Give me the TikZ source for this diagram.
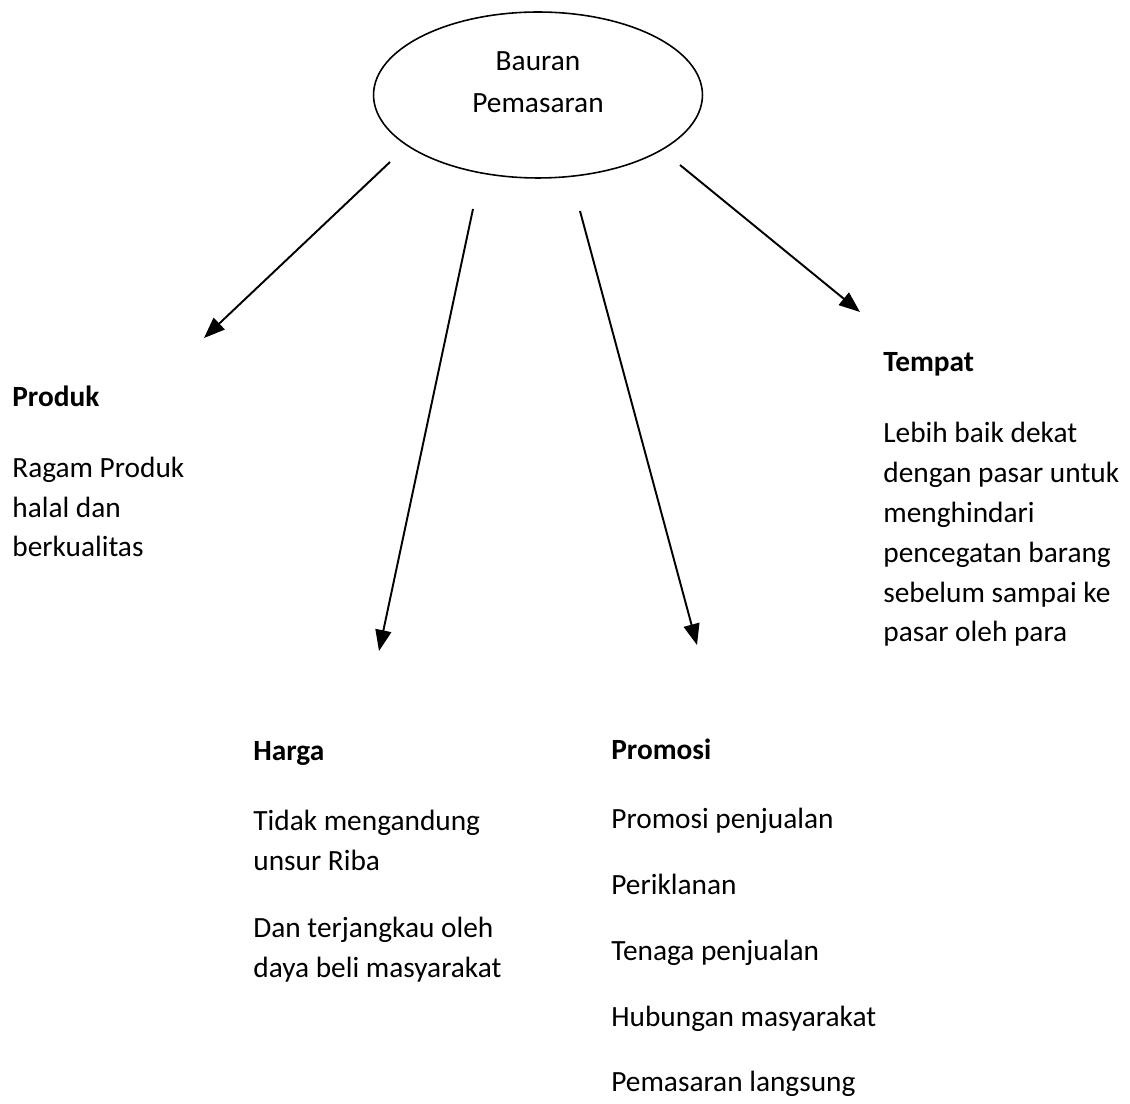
\documentclass[tikz,border=0pt]{standalone}
\usepackage{fontspec}
\setmainfont{Carlito}
\usepackage{tikz}
\usetikzlibrary{positioning,shapes.geometric,arrows.meta}
\newcommand{\textsz}{\fontsize{16.7}{22.7}\selectfont}
\tikzset{
    hub/.style={ellipse, draw, line width=0.9pt, minimum width=6.58cm, minimum height=3.32cm, inner sep=0pt},
    hubtext/.style={align=center, inner sep=0pt, anchor=base, font=\textsz},
    head/.style={font=\textsz\bfseries, inner sep=0pt, anchor=base west},
    body/.style={align=left, inner sep=0pt, font=\textsz},
    arrow/.style={-{Triangle[length=0.42cm, width=0.32cm]}, line width=1.1pt}
}

\begin{document}
\begin{tikzpicture}[x=0.02cm, y=-0.02cm]
\useasboundingbox (0,0) rectangle (1130,1104);

% Centre ellipse
\node[hub] (mix) at (538,95) {};
\node[hubtext] (mixtext) at (538,113) {Bauran\\[0.06cm]Pemasaran};

% Headings
\node[head] (produk) at (12,407) {Produk};
\node[head] (tempat) at (883,372) {Tempat};
\node[head] (harga) at (253,761) {Harga};
\node[head] (promosi) at (611,760) {Promosi};

% Descriptions (placed by their last line)
\node[body, below=3cm of produk.base west, anchor=base west] (produkText) {Ragam Produk\\halal dan\\berkualitas};
\node[body, below=5.4cm of tempat.base west, anchor=base west] (tempatText) {Lebih baik dekat\\dengan pasar untuk\\menghindari\\pencegatan barang\\sebelum sampai ke\\pasar oleh para};
\node[body, below=4.33cm of harga.base west, anchor=base west] (hargaText) {Tidak mengandung\\unsur Riba\\[0.55cm]Dan terjangkau oleh\\daya beli masyarakat};
\node[body, below=6.64cm of promosi.base west, anchor=base west] (promosiText) {Promosi penjualan\\[0.52cm]Periklanan\\[0.52cm]Tenaga penjualan\\[0.52cm]Hubungan masyarakat\\[0.52cm]Pemasaran langsung};

% Arrow ends
\coordinate (produkTail) at (390,162);
\coordinate (produkTip) at (204,338);
\coordinate (hargaTail) at (473,209);
\coordinate (hargaTip) at (379,651);
\coordinate (promosiTail) at (580,211);
\coordinate (promosiTip) at (697,645);
\coordinate (tempatTail) at (680,165);
\coordinate (tempatTip) at (860,312);

% Arrows
\draw[arrow] (produkTail) -- (produkTip);
\draw[arrow] (hargaTail) -- (hargaTip);
\draw[arrow] (promosiTail) -- (promosiTip);
\draw[arrow] (tempatTail) -- (tempatTip);

\end{tikzpicture}
\end{document}
